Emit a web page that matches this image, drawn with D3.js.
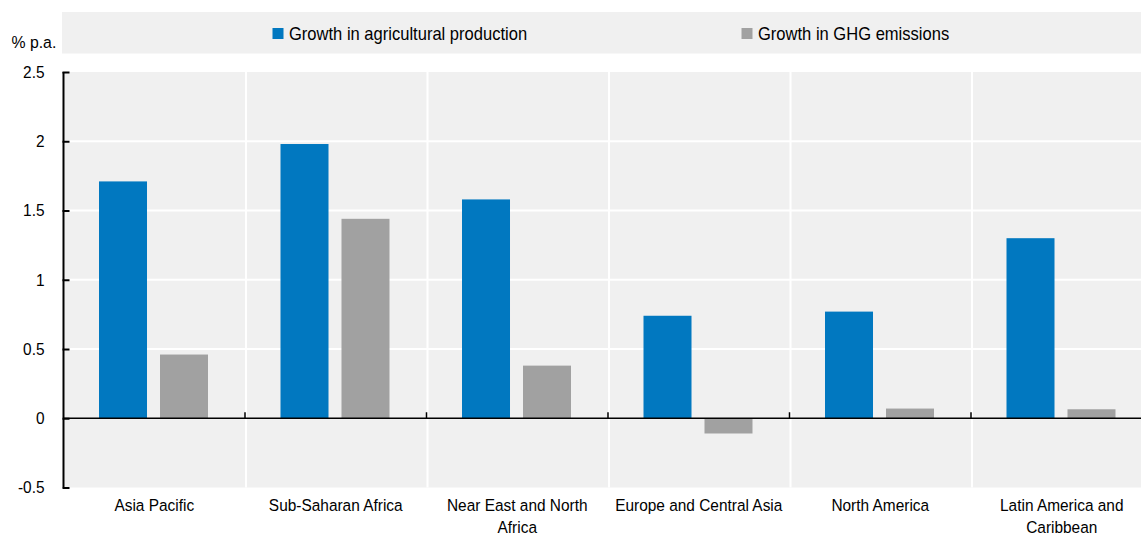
<!DOCTYPE html>
<html>
<head>
<meta charset="utf-8">
<script src="https://cdn.jsdelivr.net/npm/d3@7"></script>
<style>
  html, body { margin: 0; padding: 0; background: #ffffff; }
  svg { display: block; font-family: "Liberation Sans", Arial, sans-serif; }
</style>
</head>
<body>
<svg id="chart" width="1141" height="535"></svg>
<script>
const categories = ["Asia Pacific", "Sub-Saharan Africa", "Near East and North Africa",
  "Europe and Central Asia", "North America", "Latin America and Caribbean"];
const seriesNames = ["Growth in agricultural production", "Growth in GHG emissions"];
const agriculturalProduction = [1.71, 1.98, 1.58, 0.74, 0.77, 1.30];
const ghgEmissions = [0.46, 1.44, 0.38, -0.11, 0.07, 0.065];
const yTicks = [-0.5, 0, 0.5, 1, 1.5, 2, 2.5];
const yTickLabels = ["-0.5", "0", "0.5", "1", "1.5", "2", "2.5"];
const unitLabel = "% p.a.";
const colors = ["#0178c0", "#a1a1a1"];

const seriesValues = [agriculturalProduction, ghgEmissions];
const rows = categories.map((c, i) => ({ cat: c, vals: seriesValues.map(s => s[i]) }));

const svg = d3.select("#chart");
const W = 1141;
const plotLeft = 63.5, plotTop = 72, plotBottom = 487.5;
const bandW = 181.5;
const SX = 0.93; // horizontal condensation of the label font

const x0 = d3.scaleBand().domain(categories).range([plotLeft, plotLeft + bandW * categories.length]).padding(0);
const x1 = d3.scaleBand().domain(seriesNames).range([35.5, 144.5]).paddingInner(0.213).paddingOuter(0);
const y = d3.scaleLinear().domain([-0.5, 2.5]).range([plotBottom, plotTop]);

// Legend box
svg.append("rect").attr("x", 62).attr("y", 12).attr("width", W - 62).attr("height", 41.5).attr("fill", "#f0f0f0");
const legendX = [272.5, 741.5];
seriesNames.forEach((s, i) => {
  const g = svg.append("g").attr("transform", `translate(${legendX[i]},0)`);
  g.append("rect").attr("x", 0).attr("y", 28).attr("width", 11).attr("height", 11).attr("fill", colors[i]);
  g.append("text").attr("transform", `translate(16.5,39.5) scale(${SX},1)`)
    .attr("font-size", "17.8px").attr("fill", "#000").text(s);
});

// Unit label
svg.append("text").attr("transform", `translate(11.5,47.5) scale(${SX},1)`)
  .attr("font-size", "17px").attr("fill", "#000").text(unitLabel);

// Plot background
svg.append("rect").attr("x", plotLeft + 1).attr("y", plotTop).attr("width", W - plotLeft - 1).attr("height", plotBottom - plotTop).attr("fill", "#f0f0f0");

// Horizontal white gridlines
svg.append("g").selectAll("line").data(yTicks.filter(v => v !== 0 && v !== -0.5 && v !== 2.5)).join("line")
  .attr("x1", plotLeft).attr("x2", W).attr("y1", d => y(d)).attr("y2", d => y(d))
  .attr("stroke", "#ffffff").attr("stroke-width", 2);

// Vertical white separators
svg.append("g").selectAll("line").data(categories.slice(1)).join("line")
  .attr("x1", d => x0(d) + 1).attr("x2", d => x0(d) + 1).attr("y1", plotTop).attr("y2", plotBottom)
  .attr("stroke", "#ffffff").attr("stroke-width", 2);

// Bars
const groups = svg.append("g").selectAll("g").data(rows).join("g")
  .attr("transform", d => `translate(${x0(d.cat)},0)`);
groups.selectAll("rect").data(d => d.vals.map((v, i) => ({ s: seriesNames[i], v, i }))).join("rect")
  .attr("x", d => x1(d.s)).attr("width", x1.bandwidth())
  .attr("y", d => y(Math.max(0, d.v))).attr("height", d => Math.abs(y(d.v) - y(0)))
  .attr("fill", d => colors[d.i]);

// Zero line
svg.append("line").attr("x1", plotLeft).attr("x2", W).attr("y1", y(0)).attr("y2", y(0))
  .attr("stroke", "#000").attr("stroke-width", 1.5);
// Category ticks on zero line
svg.append("g").selectAll("line").data(categories.slice(1)).join("line")
  .attr("x1", d => x0(d)).attr("x2", d => x0(d)).attr("y1", y(0) - 6).attr("y2", y(0))
  .attr("stroke", "#000").attr("stroke-width", 1.5);

// Y axis
const yAxis = d3.axisLeft(y).tickValues(yTicks).tickFormat((d, i) => yTickLabels[i]).tickSize(-6).tickPadding(19);
const ga = svg.append("g").attr("transform", `translate(${plotLeft},0)`).call(yAxis);
ga.select(".domain").attr("stroke", "#000").attr("stroke-width", 2).attr("d", `M0,${plotTop}V${plotBottom}`);
ga.selectAll(".tick line").attr("stroke", "#000").attr("stroke-width", 2).attr("x1", -1);
ga.selectAll(".tick text").attr("font-size", "16.6px").attr("font-family", "Liberation Sans, Arial, sans-serif")
  .attr("fill", "#000").attr("x", -19 / SX).attr("transform", `scale(${SX},1)`);

// X labels with wrapping
const maxW = 176 / SX;
rows.forEach(r => {
  const cx = x0(r.cat) + bandW / 2;
  const t = svg.append("text").attr("transform", `translate(${cx},0) scale(${SX},1)`)
    .attr("text-anchor", "middle").attr("font-size", "16.6px").attr("fill", "#000");
  const words = r.cat.split(" ");
  let line = [], lineNo = 0;
  let ts = t.append("tspan").attr("x", 0).attr("y", 511);
  words.forEach(w => {
    line.push(w);
    ts.text(line.join(" "));
    if (ts.node().getComputedTextLength() > maxW && line.length > 1) {
      line.pop();
      ts.text(line.join(" "));
      line = [w];
      lineNo++;
      ts = t.append("tspan").attr("x", 0).attr("y", 511 + lineNo * 22).text(w);
    }
  });
});
</script>
</body>
</html>
